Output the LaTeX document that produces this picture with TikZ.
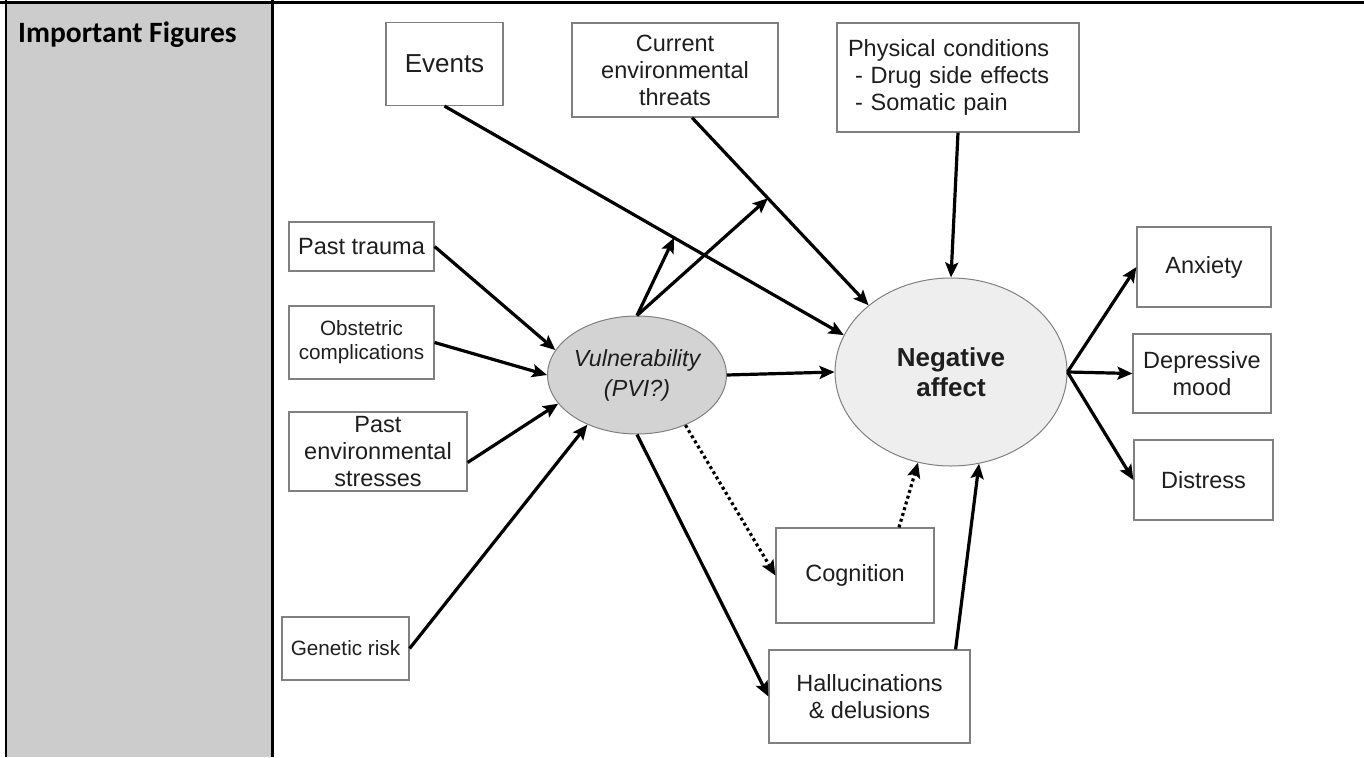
\documentclass[tikz,border=0pt]{standalone}
\usepackage{fontspec}
\setmainfont{Liberation Sans}
\newfontfamily\cellfont{Carlito}
\usetikzlibrary{arrows.meta,shapes.geometric}

\definecolor{cellgrey}{RGB}{204,204,204}
\definecolor{boxgrey}{RGB}{128,128,128}
\definecolor{vulgrey}{RGB}{211,211,211}
\definecolor{affgrey}{RGB}{238,238,238}
\definecolor{figtext}{RGB}{30,30,30}

\begin{document}
\begin{tikzpicture}[
  x=1pt,
  y=-1pt,
  fig box/.style={draw=boxgrey, line width=1.2pt, inner sep=0pt, align=center,
    text=figtext, font=\fontsize{23.5}{27}\selectfont},
  fig oval/.style={ellipse, draw=boxgrey, line width=1pt, inner sep=0pt,
    align=center, text=figtext},
  fig arrow/.style={-{Stealth[length=15pt,width=13pt,inset=3pt]}, line width=3.2pt},
  fig dots/.style={fig arrow, dash pattern=on 3pt off 3pt}
]
  \useasboundingbox (0,0) rectangle (1364,757);

  % Table cell and rules.
  \fill[cellgrey] (7,4) rectangle (271,757);
  \draw[line width=3.5pt] (0,2.5) -- (1364,2.5);
  \draw[line width=2.8pt] (6,0) -- (6,757);
  \draw[line width=3pt] (272,0) -- (272,757);
  \node[anchor=base west, inner sep=0pt,
    font=\cellfont\bfseries\fontsize{29.5}{32}\selectfont] (cell) at (18,43)
    {Important Figures};

  % Current stressors along the top.
  \node[fig box, minimum width=117pt, minimum height=83pt,
    font=\fontsize{26}{29}\selectfont] (ev) at (444.5,64) {Events};
  \node[fig box, minimum width=206pt, minimum height=94pt] (cur) at (675,70)
    {Current\\environmental\\threats};
  \node[fig box, align=left, text width=220pt, inner xsep=11pt,
    minimum height=109pt] (phys) at (958,77.5)
    {Physical conditions\\\hspace*{7pt}- Drug side effects\\\hspace*{7pt}- Somatic pain};

  % Past factors on the left.
  \node[fig box, minimum width=145pt, minimum height=49pt] (ptr) at (361.5,246.5)
    {Past trauma};
  \node[fig box, minimum width=145pt, minimum height=73pt,
    font=\fontsize{20.7}{24}\selectfont] (obs) at (361.5,342.5)
    {Obstetric\\complications};
  \node[fig box, minimum width=178pt, minimum height=79pt] (penv) at (378,451.5)
    {Past\\environmental\\stresses};
  \node[fig box, minimum width=127pt, minimum height=63pt,
    font=\fontsize{20.7}{24}\selectfont] (gen) at (345.5,648.5)
    {Genetic risk};

  % The two central states.
  \node[fig oval, fill=vulgrey, minimum width=178pt, minimum height=118pt,
    font=\itshape\fontsize{23.3}{30}\selectfont] (vul) at (637,375)
    {Vulnerability\\(PVI?)};
  \node[fig oval, fill=affgrey, minimum width=232pt, minimum height=188pt,
    font=\bfseries\fontsize{26}{30}\selectfont] (neg) at (951,372)
    {Negative\\affect};

  % Outcomes on the right and below.
  \node[fig box, minimum width=134pt, minimum height=80pt] (anx) at (1204,267)
    {Anxiety};
  \node[fig box, minimum width=138pt, minimum height=79pt] (dep) at (1202,373.5)
    {Depressive\\mood};
  \node[fig box, minimum width=139pt, minimum height=80pt] (dis) at (1203.5,480)
    {Distress};
  \node[fig box, minimum width=158pt, minimum height=95pt] (cog) at (855,575.5)
    {Cognition};
  \node[fig box, minimum width=201pt, minimum height=93pt] (hal) at (869.5,696.5)
    {Hallucinations\\\& delusions};

  % Past factors feed vulnerability.
  \draw[fig arrow] (ptr.east) -- (vul.163);
  \draw[fig arrow] (obs.east) -- (vul.west);
  \draw[fig arrow] ([yshift=-11pt]penv.east) -- (vul.200);
  \draw[fig arrow] (gen.east) -- (vul.225);

  % Current stressors feed negative affect.
  \draw[fig arrow] (ev.south) -- coordinate[pos=0.575] (evhit) (neg.161);
  \draw[fig arrow] ([xshift=17pt]cur.south) -- coordinate[pos=0.43] (curhit) (neg.141);
  \draw[fig arrow] (phys.south) -- (neg.north);

  % Vulnerability acts on the stressor paths.
  \draw[fig arrow] (vul.north) -- (evhit);
  \draw[fig arrow] (vul.north) -- (curhit);

  \draw[fig arrow] (vul.east) -- (neg.west);
  \draw[fig dots] (vul.314) -- (cog.west);
  \draw[fig arrow] (vul.south) -- (hal.west);
  \draw[fig dots] ([xshift=44pt]cog.north) -- (neg.250);
  \draw[fig arrow] ([xshift=-15pt]hal.north east) -- (neg.287);

  % Negative affect shows as three outcomes.
  \foreach \out in {anx, dep, dis}
    \draw[fig arrow] (neg.east) -- (\out.west);
\end{tikzpicture}
\end{document}
